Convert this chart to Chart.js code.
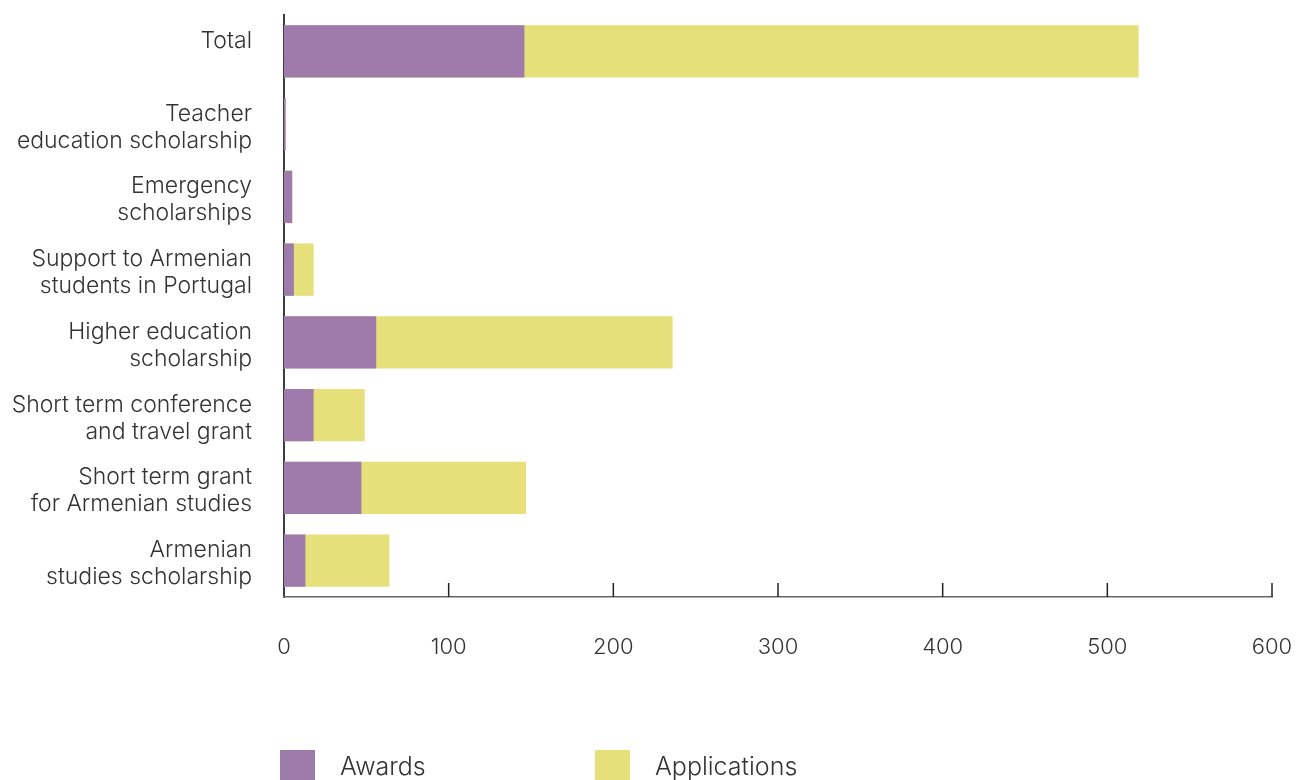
<!DOCTYPE html>
<html>
<head>
<meta charset="utf-8">
<script src="https://cdn.jsdelivr.net/npm/chart.js@4/dist/chart.umd.min.js"></script>
<style>
  html, body { margin: 0; padding: 0; background: #fff; }
  #wrap { position: relative; width: 1308px; height: 780px; overflow: hidden; }
  #legend { position: absolute; left: 280px; top: 750px; display: flex; font-family: Inter, sans-serif; font-weight: 300; font-size: 25px; color: #333; }
  .item { display: flex; align-items: flex-start; }
  .box { width: 35px; height: 35px; margin-right: 25px; }
  .lbl { line-height: 35px; margin-top: -1px; }
</style>
</head>
<body>
<div id="wrap">
  <canvas id="c" width="1308" height="780"></canvas>
  <div id="legend"></div>
</div>
<script>
const categories = [
  ["Total", ""],
  ["Teacher", "education scholarship"],
  ["Emergency", "scholarships"],
  ["Support to Armenian", "students in Portugal"],
  ["Higher education", "scholarship"],
  ["Short term conference", "and travel grant"],
  ["Short term grant", "for Armenian studies"],
  ["Armenian", "studies scholarship"]
];
const awards = [146, 1, 5, 6, 56, 18, 47, 13];
const applications = [519, 1, 5, 18, 236, 49, 147, 64];
const seriesNames = ["Awards", "Applications"];
const seriesColors = ["#9F7BAB", "#E6E07A"];
const xMin = 0, xMax = 600, xStep = 100;

const innerTicks = {
  id: 'innerTicks',
  afterDatasetsDraw(chart) {
    const xs = chart.scales.x, ctx = chart.ctx, b = chart.chartArea.bottom;
    ctx.save();
    ctx.strokeStyle = '#222';
    ctx.lineWidth = 1.5;
    xs.ticks.forEach((t, i) => {
      if (t.value === xMin) return;
      const px = xs.getPixelForTick(i);
      ctx.beginPath();
      ctx.moveTo(px, b - 14);
      ctx.lineTo(px, b);
      ctx.stroke();
    });
    ctx.restore();
  }
};

new Chart(document.getElementById('c'), {
  type: 'bar',
  data: {
    labels: categories,
    datasets: [
      { label: seriesNames[0], data: awards, backgroundColor: seriesColors[0], barPercentage: 0.72, categoryPercentage: 1 },
      { label: seriesNames[1], data: applications, backgroundColor: seriesColors[1], barPercentage: 0.72, categoryPercentage: 1 }
    ]
  },
  options: {
    indexAxis: 'y',
    responsive: false,
    animation: false,
    layout: { padding: { top: 15, right: 36, bottom: 113, left: 0 } },
    plugins: { legend: { display: false }, tooltip: { enabled: false } },
    scales: {
      y: {
        stacked: true,
        grid: { display: false, drawTicks: false },
        border: { display: true, color: '#3d3d3d', width: 2 },
        ticks: { color: '#333', padding: 32, labelOffset: 3, font: { family: 'Inter', size: 23, weight: 300, lineHeight: 1.17 } },
        afterFit(s) { s.width = 284; s.paddingTop = 0; s.paddingBottom = 0; }
      },
      x: {
        stacked: false,
        min: xMin, max: xMax,
        grid: { display: false, drawTicks: false },
        border: { display: true, color: '#666', width: 1.5 },
        ticks: { stepSize: xStep, color: '#333', padding: 37, font: { family: 'Inter', size: 22, weight: 300 } },
        afterFit(s) { s.height = 70; s.paddingLeft = 0; s.paddingRight = 0; }
      }
    }
  },
  plugins: [innerTicks]
});

const lg = document.getElementById('legend');
seriesNames.forEach((n, i) => {
  const it = document.createElement('div');
  it.className = 'item';
  it.style.width = i === 0 ? '315px' : 'auto';
  it.innerHTML = '<div class="box" style="background:' + seriesColors[i] + '"></div><div class="lbl">' + n + '</div>';
  lg.appendChild(it);
});
</script>
</body>
</html>
